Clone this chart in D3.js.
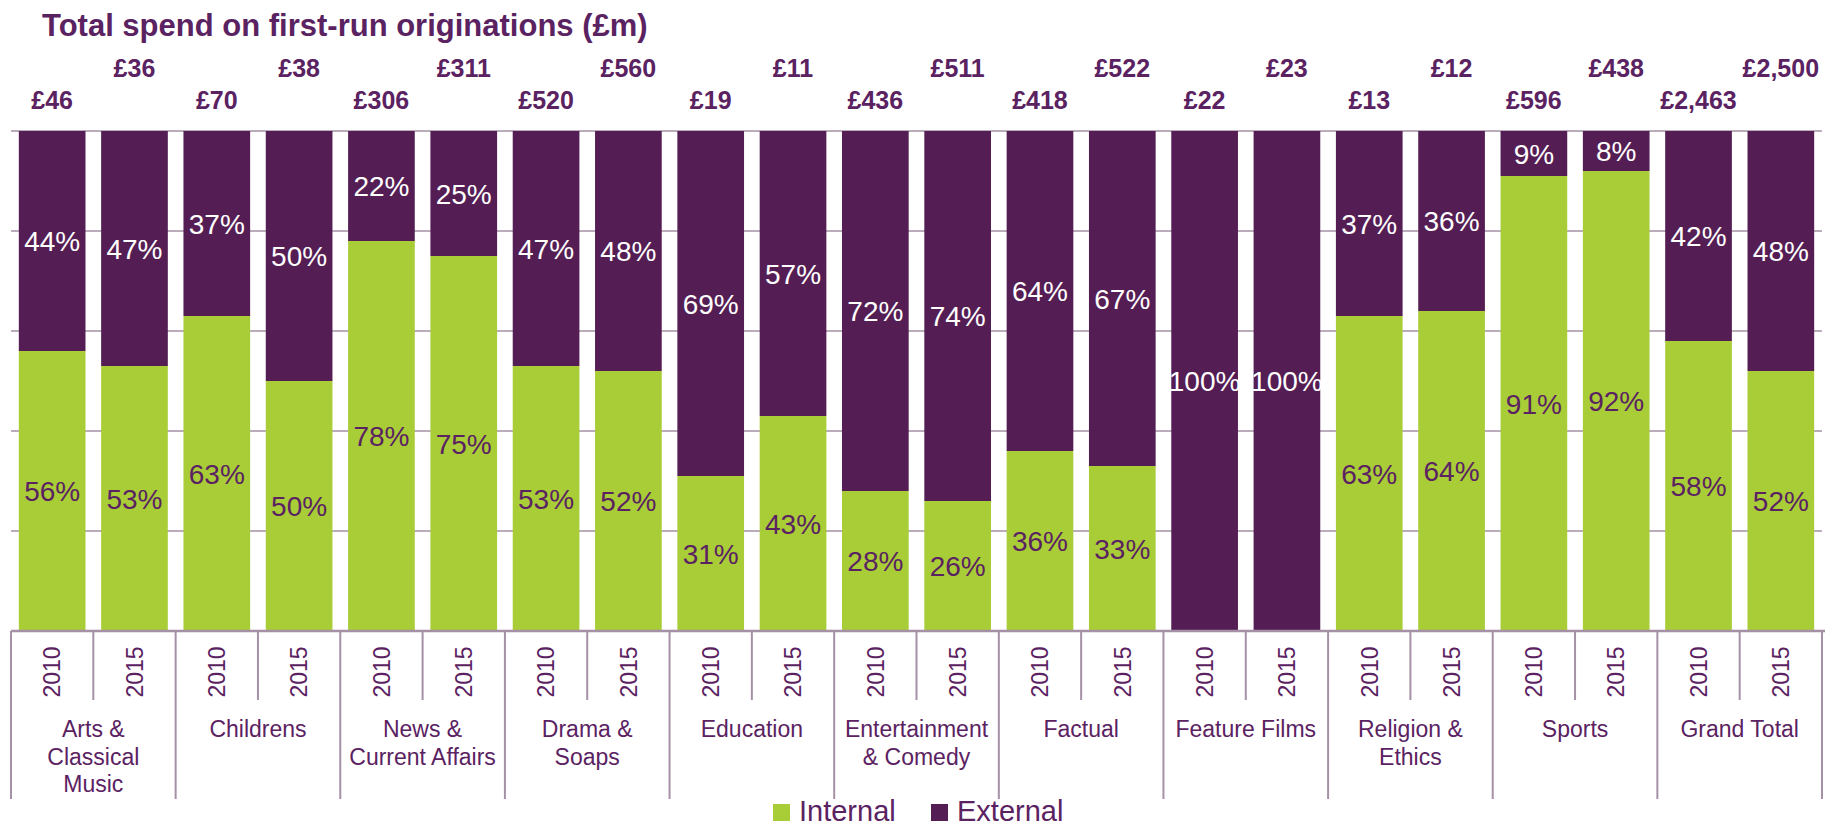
<!DOCTYPE html>
<html>
<head>
<meta charset="utf-8">
<script src="https://cdn.jsdelivr.net/npm/d3@7"></script>
<style>
  html, body { margin: 0; padding: 0; background: #fff; }
  svg { display: block; font-family: 'Liberation Sans', Arial, sans-serif; }
</style>
</head>
<body>
<svg id="chart" width="1829" height="827"></svg>
<script>
// categories and their (wrapped) labels
const categories = [
  'Arts & Classical Music', 'Childrens', 'News & Current Affairs', 'Drama & Soaps',
  'Education', 'Entertainment & Comedy', 'Factual', 'Feature Films',
  'Religion & Ethics', 'Sports', 'Grand Total',
];
const categoryLines = [
  ['Arts &', 'Classical', 'Music'], ['Childrens'], ['News &', 'Current Affairs'],
  ['Drama &', 'Soaps'], ['Education'], ['Entertainment', '& Comedy'], ['Factual'],
  ['Feature Films'], ['Religion &', 'Ethics'], ['Sports'], ['Grand Total'],
];
const years = ['2010', '2015'];

// share of spend that is internal (%), external is the rest
const internal2010 = [56, 63, 78, 53, 31, 28, 36, 0, 63, 91, 58];
const internal2015 = [53, 50, 75, 52, 43, 26, 33, 0, 64, 92, 52];
const external2010 = [44, 37, 22, 47, 69, 72, 64, 100, 37, 9, 42];
const external2015 = [47, 50, 25, 48, 57, 74, 67, 100, 36, 8, 48];

// total spend (£m)
const total2010 = [46, 70, 306, 520, 19, 436, 418, 22, 13, 596, 2463];
const total2015 = [36, 38, 311, 560, 11, 511, 522, 23, 12, 438, 2500];

const seriesNames = ['Internal', 'External'];
const yTicks = [0, 20, 40, 60, 80, 100];

const COLOR_INTERNAL = '#a8cd37';
const COLOR_EXTERNAL = '#541e54';
const COLOR_TEXT = '#5b2262';
const COLOR_RULE = '#a590a6';

const rows = [];
categories.forEach((cat, i) => {
  rows.push({ cat, year: '2010', internal: internal2010[i], external: external2010[i], total: total2010[i] });
  rows.push({ cat, year: '2015', internal: internal2015[i], external: external2015[i], total: total2015[i] });
});

const svg = d3.select('#chart');
const plotLeft = 11, plotRight = 1822, plotTop = 131, plotBottom = 631;

const x0 = d3.scaleBand().domain(categories).range([plotLeft, plotRight]);
const x1 = d3.scaleBand().domain(years).range([0, x0.bandwidth()])
  .paddingInner(0.19).paddingOuter(0.095);
const y = d3.scaleLinear().domain([0, 100]).range([plotBottom, plotTop]);
const barX = (d) => x0(d.cat) + x1(d.year);
const barMid = (d) => barX(d) + x1.bandwidth() / 2;

// title
svg.append('text')
  .attr('x', 42).attr('y', 36)
  .attr('font-size', 31).attr('font-weight', 'bold')
  .attr('fill', COLOR_TEXT)
  .text('Total spend on first-run originations (£m)');

// gridlines
svg.append('g')
  .selectAll('line')
  .data(yTicks.slice(1))
  .join('line')
  .attr('x1', plotLeft).attr('x2', plotRight)
  .attr('y1', (d) => y(d)).attr('y2', (d) => y(d))
  .attr('stroke', COLOR_RULE).attr('stroke-width', 1.5);

// stacked bars
const bars = svg.append('g');
bars.selectAll('rect.internal')
  .data(rows.filter((d) => d.internal > 0))
  .join('rect')
  .attr('class', 'internal')
  .attr('x', barX).attr('width', x1.bandwidth())
  .attr('y', (d) => y(d.internal))
  .attr('height', (d) => y(0) - y(d.internal))
  .attr('fill', COLOR_INTERNAL);
bars.selectAll('rect.external')
  .data(rows)
  .join('rect')
  .attr('class', 'external')
  .attr('x', barX).attr('width', x1.bandwidth())
  .attr('y', (d) => y(d.internal + d.external))
  .attr('height', (d) => y(d.internal) - y(d.internal + d.external))
  .attr('fill', COLOR_EXTERNAL);

// percent labels
const pct = svg.append('g').attr('font-size', 28).attr('text-anchor', 'middle');
pct.selectAll('text.internal')
  .data(rows.filter((d) => d.internal > 0))
  .join('text')
  .attr('class', 'internal')
  .attr('x', barMid)
  .attr('y', (d) => y(d.internal / 2))
  .attr('dy', '0.36em')
  .attr('fill', COLOR_TEXT)
  .text((d) => `${d.internal}%`);
pct.selectAll('text.external')
  .data(rows)
  .join('text')
  .attr('class', 'external')
  .attr('x', barMid)
  .attr('y', (d) => y(d.internal + d.external / 2))
  .attr('dy', '0.36em')
  .attr('fill', '#fff')
  .text((d) => `${d.external}%`);

// totals above bars, staggered by year
svg.append('g')
  .attr('font-size', 25).attr('font-weight', 'bold')
  .attr('text-anchor', 'middle').attr('fill', COLOR_TEXT)
  .selectAll('text')
  .data(rows)
  .join('text')
  .attr('x', barMid)
  .attr('y', (d) => (d.year === '2010' ? 109 : 77))
  .text((d) => `£${d3.format(',')(d.total)}`);

// axis line
svg.append('line')
  .attr('x1', plotLeft).attr('x2', plotRight + 3)
  .attr('y1', plotBottom).attr('y2', plotBottom)
  .attr('stroke', COLOR_RULE).attr('stroke-width', 2.5);

// separators below the axis
const sep = svg.append('g').attr('stroke', COLOR_RULE).attr('stroke-width', 2);
sep.selectAll('line.group')
  .data(categories.concat(['end']))
  .join('line')
  .attr('class', 'group')
  .attr('x1', (d) => (d === 'end' ? plotRight : x0(d)))
  .attr('x2', (d) => (d === 'end' ? plotRight : x0(d)))
  .attr('y1', plotBottom).attr('y2', 799);
sep.selectAll('line.year')
  .data(categories)
  .join('line')
  .attr('class', 'year')
  .attr('x1', (d) => x0(d) + x0.bandwidth() / 2)
  .attr('x2', (d) => x0(d) + x0.bandwidth() / 2)
  .attr('y1', plotBottom).attr('y2', 700);

// year labels
svg.append('g')
  .attr('font-size', 23).attr('fill', COLOR_TEXT).attr('text-anchor', 'middle')
  .selectAll('text')
  .data(rows)
  .join('text')
  .attr('transform', (d) => `translate(${barMid(d)},672) rotate(-90)`)
  .attr('dy', '0.36em')
  .text((d) => d.year);

// category labels
svg.append('g')
  .attr('font-size', 23).attr('fill', COLOR_TEXT).attr('text-anchor', 'middle')
  .selectAll('text')
  .data(categories)
  .join('text')
  .attr('x', (d) => x0(d) + x0.bandwidth() / 2)
  .attr('y', 737)
  .each(function (d, i) {
    d3.select(this).selectAll('tspan')
      .data(categoryLines[i])
      .join('tspan')
      .attr('x', x0(d) + x0.bandwidth() / 2)
      .attr('dy', (_, j) => (j === 0 ? 0 : 27.5))
      .text((line) => line);
  });

// legend
const legend = svg.append('g');
const legendX = [773, 931];
[COLOR_INTERNAL, COLOR_EXTERNAL].forEach((color, i) => {
  legend.append('rect')
    .attr('x', legendX[i]).attr('y', 804)
    .attr('width', 17).attr('height', 17)
    .attr('fill', color);
  legend.append('text')
    .attr('x', legendX[i] + 26).attr('y', 821)
    .attr('font-size', 29).attr('fill', COLOR_TEXT)
    .text(seriesNames[i]);
});
</script>
</body>
</html>
